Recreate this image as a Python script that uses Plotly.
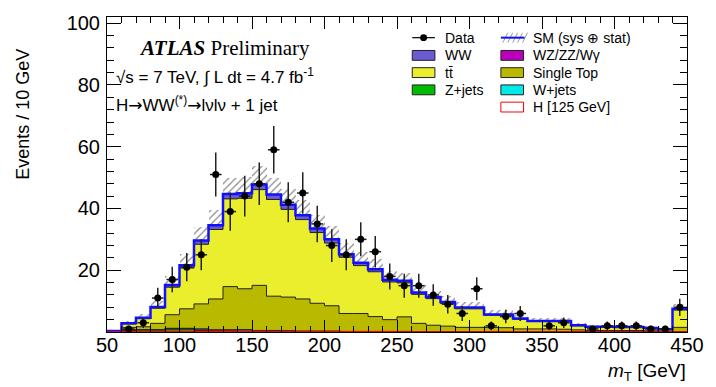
import plotly.graph_objects as go

# ---------------- data (40 bins of 10 GeV, 50-450 GeV) ----------------
bin_lo = list(range(50, 450, 10))
bin_width = 10

z_jets = [0.0, 0.5, 0.6, 0.6, 0.9, 0.9, 0.5, 0.4, 0.3, 0.3, 0.2, 0.2, 0.1, 0.1, 0.1, 0.1] + [0.0] * 24
w_jets = [0.0, 0.1, 0.1, 0.1, 0.2, 0.2, 0.4, 0.2, 0.3, 0.4, 0.2, 0.2, 0.2, 0.1, 0.1, 0.1,
          0.1, 0.1, 0.1, 0.1, 0.1] + [0.05] * 19
wz_zz_wg = [0.0] + [0.1] * 20 + [0.05] * 19
single_top = [0.1, 0.8, 0.9, 2.0, 4.4, 6.3, 8.1, 10.0, 14.0, 13.2, 14.6, 11.1, 10.9, 10.4, 9.0,
              8.2, 5.8, 5.8, 4.8, 3.8, 4.7, 2.7, 2.1, 1.8, 1.4, 1.4, 1.4, 1.3, 0.9, 0.9, 0.9,
              0.8, 0.6, 0.4, 0.4, 0.4, 0.4, 0.3, 0.2, 1.4]
ttbar = [0.2, 1.1, 2.6, 4.9, 8.9, 13.2, 19.3, 22.5, 28.4, 29.3, 31.0, 31.3, 28.4, 25.7, 22.9,
         20.3, 18.2, 15.5, 14.5, 12.2, 11.0, 9.4, 8.6, 7.3, 6.0, 6.0, 3.9, 4.0, 3.1, 2.4, 2.4,
         2.5, 1.3, 1.1, 1.1, 1.0, 1.0, 0.8, 0.5, 5.6]
ww = [0.0, 0.2, 0.3, 0.4, 0.7, 0.9, 1.2, 1.4, 1.6, 1.6, 1.7, 1.6, 1.5, 1.4, 1.3, 1.2, 1.0, 0.9,
      0.8, 0.7, 0.7, 0.6, 0.5, 0.5, 0.4, 0.4, 0.3, 0.3, 0.3, 0.2, 0.2, 0.2, 0.2, 0.1, 0.1, 0.1,
      0.1, 0.1, 0.1, 0.4]
higgs = [0.0, 0.05, 0.1, 0.1, 0.15, 0.2, 0.2, 0.2, 0.2, 0.15, 0.15, 0.1, 0.1, 0.1, 0.05, 0.05,
         0.05, 0.05, 0.05, 0.05] + [0.03] * 20
sm_err = [0.2, 0.8, 1.2, 2.0, 3.0, 3.8, 4.4, 4.8, 5.3, 5.3, 5.8, 5.5, 5.2, 4.9, 4.5, 4.2, 3.7,
          3.4, 3.2, 2.8, 2.6, 2.3, 2.1, 1.9, 1.7, 1.7, 1.4, 1.4, 1.2, 1.0, 1.0, 1.0, 0.8, 0.7,
          0.7, 0.7, 0.7, 0.6, 0.5, 1.6]
data = [None, 1, 3, 11, 17, 21, 25, 51, 39, 44, 48, 59, 42, 45, 35, 28, 25, 30, 26, 18, 15, 15,
        12, 9, 6, 14, 2, 5, 6, None, 2, 3, None, 1, 2, 2, 2, 1, 1, 8]
data_err = [None, 1.0, 1.7, 3.3, 4.1, 4.6, 5.0, 7.1, 6.2, 6.6, 6.9, 7.7, 6.5, 6.7, 5.9, 5.3, 5.0,
            5.5, 5.1, 4.2, 3.9, 3.9, 3.5, 3.0, 2.4, 3.7, 1.4, 2.2, 2.4, None, 1.4, 1.7, None, 1.0,
            1.4, 1.4, 1.4, 1.0, 1.0, 2.8]

x_ticks = [50, 100, 150, 200, 250, 300, 350, 400, 450]
y_ticks = [20, 40, 60, 80, 100]

# colours
C_WW = "#6a5cd0"
C_TT = "#ebee2d"
C_ST = "#b9b900"
C_Z = "#00bb00"
C_W = "#00e8e8"
C_WZ = "#bb00bb"
C_H = "#ff0000"

# ---------------- build cumulative stack ----------------
def cum(*arrs):
    return [sum(v) for v in zip(*arrs)]

c1 = list(z_jets)
c2 = cum(c1, w_jets)
c3 = cum(c2, wz_zz_wg)
c4 = cum(c3, single_top)
c5 = cum(c4, ttbar)
c6 = cum(c5, ww)  # total SM

x_edges = bin_lo + [bin_lo[-1] + bin_width]
centers = [b + bin_width / 2 for b in bin_lo]


def step(vals):
    return list(vals) + [vals[-1]]


fig = go.Figure()

# uncertainty band (hatched) - bars are drawn below scatter fills
fig.add_trace(go.Bar(
    x=centers, y=[2 * e for e in sm_err], base=[t - e for t, e in zip(c6, sm_err)],
    width=bin_width,
    marker=dict(color="rgba(0,0,0,0)", line=dict(width=0),
                pattern=dict(shape="/", fgcolor="#8a8a8a", bgcolor="rgba(0,0,0,0)",
                             size=5, solidity=0.25, fillmode="replace")),
    showlegend=False, hoverinfo="skip"))

for vals, col, lc in [(c6, C_WW, C_WW), (c5, C_TT, "#222"), (c4, C_ST, "#222"),
                      (c3, C_WZ, "#222"), (c2, C_W, "#222"), (c1, C_Z, "#222")]:
    fig.add_trace(go.Scatter(x=x_edges, y=step(vals), mode="lines", line_shape="hv",
                             fill="tozeroy", fillcolor=col,
                             line=dict(color=lc, width=1), showlegend=False,
                             hoverinfo="skip"))

# total line
fig.add_trace(go.Scatter(x=x_edges, y=step(c6), mode="lines", line_shape="hv",
                         line=dict(color="#1010ff", width=2.5), showlegend=False))
# Higgs
fig.add_trace(go.Scatter(x=x_edges, y=step(higgs), mode="lines", line_shape="hv",
                         line=dict(color=C_H, width=1.5), showlegend=False))
# data
fig.add_trace(go.Scatter(
    x=centers, y=data, mode="markers",
    marker=dict(color="black", size=7),
    error_y=dict(type="data", array=data_err, color="#222", thickness=1.5, width=0),
    error_x=dict(type="constant", value=4, color="#222", thickness=1.5, width=0),
    showlegend=False))

# ---------------- layout ----------------
W, H = 716, 387
L, R, T, B = 107, 20, 12, 55
PW, PH = W - L - R, H - T - B


def px(x):
    return (x - L) / PW


def py(y):
    return (H - B - y) / PH


shapes = []
annotations = []

# legend
col1_sym, col1_txt = 417, 448
col2_sym, col2_txt = 507, 538
rows = [33, 51, 68.5, 86, 103.5]
leg_font = dict(family="Liberation Sans", size=14, color="black")


def box(x0, yc, fill, line="#222"):
    shapes.append(dict(type="rect", xref="paper", yref="paper",
                       x0=px(x0), x1=px(x0 + 23), y0=py(yc + 5), y1=py(yc - 5),
                       fillcolor=fill, line=dict(color=line, width=1)))


def label(x, yc, text):
    annotations.append(dict(xref="paper", yref="paper", x=px(x), y=py(yc), text=text,
                            showarrow=False, xanchor="left", yanchor="middle", font=leg_font))


# Data symbol
shapes.append(dict(type="line", xref="paper", yref="paper", x0=px(col1_sym), x1=px(col1_sym + 23),
                   y0=py(rows[0]), y1=py(rows[0]), line=dict(color="black", width=1.2)))
shapes.append(dict(type="circle", xref="paper", yref="paper",
                   x0=px(col1_sym + 8), x1=px(col1_sym + 15), y0=py(rows[0] + 3.5),
                   y1=py(rows[0] - 3.5), fillcolor="black", line=dict(color="black", width=0)))
label(col1_txt, rows[0], "Data")
box(col1_sym, rows[1], C_WW)
label(col1_txt, rows[1], "WW")
box(col1_sym, rows[2], C_TT)
label(col1_txt, rows[2], "tt\u0304")
box(col1_sym, rows[3], C_Z)
label(col1_txt, rows[3], "Z+jets")

# SM hatch symbol
for k in range(5):
    xs = col2_sym + 2 + k * 5
    shapes.append(dict(type="line", xref="paper", yref="paper", x0=px(xs), x1=px(xs + 5),
                       y0=py(rows[0] + 5), y1=py(rows[0] - 5), line=dict(color="#9a9a9a", width=1)))
shapes.append(dict(type="line", xref="paper", yref="paper", x0=px(col2_sym), x1=px(col2_sym + 24),
                   y0=py(rows[0]), y1=py(rows[0]), line=dict(color="#1010ff", width=2)))
label(col2_txt, rows[0], "SM (sys ⊕ stat)")
box(col2_sym, rows[1], C_WZ)
label(col2_txt, rows[1], "WZ/ZZ/Wγ")
box(col2_sym, rows[2], C_ST)
label(col2_txt, rows[2], "Single Top")
box(col2_sym, rows[3], C_W)
label(col2_txt, rows[3], "W+jets")
box(col2_sym, rows[4], "white", line=C_H)
label(col2_txt, rows[4], "H [125 GeV]")

ARW = "<span style='font-family:DejaVu Sans'>→</span>"

# text labels
annotations.append(dict(xref="paper", yref="paper", x=px(137), y=py(43),
                        text="<b><i>ATLAS</i></b> Preliminary", showarrow=False,
                        xanchor="left", yanchor="middle",
                        font=dict(family="Liberation Serif", size=21, color="black")))
annotations.append(dict(xref="paper", yref="paper", x=px(114), y=py(72),
                        text="√s = 7 TeV, ∫ L dt = 4.7 fb<sup>-1</sup>", showarrow=False,
                        xanchor="left", yanchor="middle",
                        font=dict(family="Liberation Sans", size=17, color="black")))
annotations.append(dict(xref="paper", yref="paper", x=px(114), y=py(100),
                        text="H" + ARW + "WW<sup>(*)</sup>" + ARW + "lνlν + 1 jet", showarrow=False,
                        xanchor="left", yanchor="middle",
                        font=dict(family="Liberation Sans", size=17, color="black")))
# axis titles
annotations.append(dict(xref="paper", yref="paper", x=px(22), y=py(111),
                        text="Events / 10 GeV", showarrow=False, textangle=-90,
                        xanchor="center", yanchor="middle",
                        font=dict(family="Liberation Sans", size=18, color="black")))
annotations.append(dict(xref="paper", yref="paper", x=px(697), y=py(373),
                        text="<i>m</i><sub>T</sub> [GeV]", showarrow=False,
                        xanchor="right", yanchor="middle",
                        font=dict(family="Liberation Sans", size=19, color="black")))

axis_common = dict(showgrid=False, zeroline=False, showline=True, linecolor="black",
                   linewidth=1, mirror="allticks", ticks="inside", tickcolor="black",
                   tickwidth=1, tickfont=dict(family="Liberation Sans", size=20, color="black"))

fig.update_layout(
    width=W, height=H, margin=dict(l=L, r=R, t=T, b=B),
    paper_bgcolor="white", plot_bgcolor="white",
    barmode="overlay", bargap=0, showlegend=False,
    shapes=shapes, annotations=annotations,
    xaxis=dict(range=[50, 450], tickvals=x_ticks, ticklen=12,
               minor=dict(ticks="inside", dtick=10, ticklen=6, tickcolor="black"),
               ticklabelstandoff=-5, **axis_common),
    yaxis=dict(range=[0, 102], tickvals=y_ticks, ticklen=14,
               minor=dict(ticks="inside", tickvals=[v for v in range(0, 101, 4) if v % 20], ticklen=7,
                          tickcolor="black"),
               ticklabelstandoff=2, **axis_common),
)

fig.write_html("out.html")
